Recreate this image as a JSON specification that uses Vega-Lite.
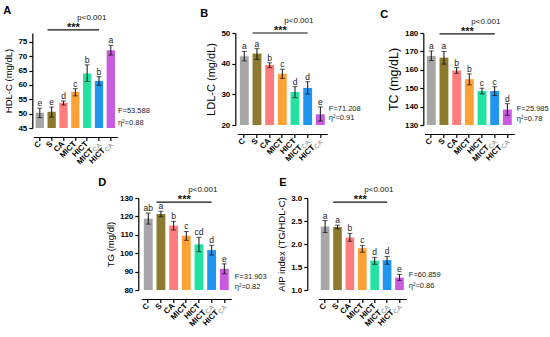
{
  "$schema": "https://vega.github.io/schema/vega-lite/v6.json",
  "padding": {"left": 3, "top": 4, "right": 0, "bottom": 0},
  "datasets": {
    "cats": [
      {"g": "C", "lab": "C", "sub": ""},
      {"g": "S", "lab": "S", "sub": ""},
      {"g": "CA", "lab": "CA", "sub": ""},
      {"g": "MICT", "lab": "MICT", "sub": ""},
      {"g": "HICT", "lab": "HICT", "sub": ""},
      {"g": "MICT_CA", "lab": "MICT", "sub": "CA"},
      {"g": "HICT_CA", "lab": "HICT", "sub": "CA"}
    ],
    "hdl": [
      {"g": "C", "m": 50.3, "lo": 48.6, "hi": 51.9, "L": "e"},
      {"g": "S", "m": 50.7, "lo": 48.8, "hi": 52.3, "L": "e"},
      {"g": "CA", "m": 53.8, "lo": 53.0, "hi": 54.4, "L": "d"},
      {"g": "MICT", "m": 57.6, "lo": 56.2, "hi": 58.7, "L": "c"},
      {"g": "HICT", "m": 64.0, "lo": 61.2, "hi": 67.0, "L": "b"},
      {"g": "MICT_CA", "m": 61.4, "lo": 59.9, "hi": 62.9, "L": "b"},
      {"g": "HICT_CA", "m": 72.1, "lo": 70.4, "hi": 73.8, "L": "a"}
    ],
    "ldl": [
      {"g": "C", "m": 42.4, "lo": 40.9, "hi": 44.0, "L": "a"},
      {"g": "S", "m": 43.3, "lo": 41.4, "hi": 44.9, "L": "a"},
      {"g": "CA", "m": 39.6, "lo": 38.7, "hi": 40.3, "L": "b"},
      {"g": "MICT", "m": 36.7, "lo": 35.2, "hi": 38.2, "L": "c"},
      {"g": "HICT", "m": 30.8, "lo": 28.9, "hi": 32.5, "L": "d"},
      {"g": "MICT_CA", "m": 32.1, "lo": 30.1, "hi": 34.1, "L": "d"},
      {"g": "HICT_CA", "m": 23.5, "lo": 21.3, "hi": 25.9, "L": "e"}
    ],
    "tc": [
      {"g": "C", "m": 167.5, "lo": 165.0, "hi": 170.2, "L": "a"},
      {"g": "S", "m": 166.6, "lo": 163.1, "hi": 170.0, "L": "a"},
      {"g": "CA", "m": 159.6, "lo": 158.1, "hi": 161.2, "L": "b"},
      {"g": "MICT", "m": 154.9, "lo": 151.8, "hi": 157.8, "L": "b"},
      {"g": "HICT", "m": 148.5, "lo": 146.9, "hi": 150.0, "L": "c"},
      {"g": "MICT_CA", "m": 148.5, "lo": 146.0, "hi": 150.8, "L": "c"},
      {"g": "HICT_CA", "m": 138.4, "lo": 135.3, "hi": 141.6, "L": "d"}
    ],
    "tg": [
      {"g": "C", "m": 118.8, "lo": 115.8, "hi": 121.8, "L": "ab"},
      {"g": "S", "m": 121.3, "lo": 119.8, "hi": 122.8, "L": "a"},
      {"g": "CA", "m": 115.0, "lo": 112.6, "hi": 117.3, "L": "b"},
      {"g": "MICT", "m": 109.5, "lo": 107.0, "hi": 111.8, "L": "c"},
      {"g": "HICT", "m": 104.8, "lo": 100.8, "hi": 108.6, "L": "cd"},
      {"g": "MICT_CA", "m": 101.7, "lo": 99.0, "hi": 104.3, "L": "d"},
      {"g": "HICT_CA", "m": 91.5, "lo": 88.8, "hi": 94.2, "L": "e"}
    ],
    "aip": [
      {"g": "C", "m": 2.38, "lo": 2.25, "hi": 2.51, "L": "a"},
      {"g": "S", "m": 2.37, "lo": 2.33, "hi": 2.41, "L": "a"},
      {"g": "CA", "m": 2.14, "lo": 2.06, "hi": 2.23, "L": "b"},
      {"g": "MICT", "m": 1.91, "lo": 1.82, "hi": 1.97, "L": "c"},
      {"g": "HICT", "m": 1.64, "lo": 1.56, "hi": 1.71, "L": "d"},
      {"g": "MICT_CA", "m": 1.65, "lo": 1.56, "hi": 1.73, "L": "d"},
      {"g": "HICT_CA", "m": 1.27, "lo": 1.21, "hi": 1.34, "L": "e"}
    ],
    "annA": [{"g": "S", "g2": "MICT_CA", "m": "MICT", "e": "HICT_CA", "s": "***", "p": "p<0.001", "F": "F=53.588", "eta": "η²=0.88"}],
    "annB": [{"g": "S", "g2": "MICT_CA", "m": "MICT", "e": "HICT_CA", "s": "***", "p": "p<0.001", "F": "F=71.208", "eta": "η²=0.91"}],
    "annC": [{"g": "S", "g2": "MICT_CA", "m": "MICT", "e": "HICT_CA", "s": "***", "p": "p<0.001", "F": "F=25.985", "eta": "η²=0.78"}],
    "annD": [{"g": "S", "g2": "MICT_CA", "m": "MICT", "e": "HICT_CA", "s": "***", "p": "p<0.001", "F": "F=31.903", "eta": "η²=0.82"}],
    "annE": [{"g": "S", "g2": "MICT_CA", "m": "MICT", "e": "HICT_CA", "s": "***", "p": "p<0.001", "F": "F=60.859", "eta": "η²=0.86"}]
  },
  "vconcat": [
    {
      "hconcat": [
        {
          "hconcat": [
            {
              "width": 84, "height": 95,
              "title": {"text": "A", "dx": -30},
              "encoding": {"x": {"field": "g", "type": "nominal", "scale": {"domain": ["C", "S", "CA", "MICT", "HICT", "MICT_CA", "HICT_CA"], "paddingInner": 0.3, "paddingOuter": 0.2}, "axis": {"title": null, "labels": false, "offset": 9}}},
              "layer": [
                {"data": {"name": "hdl"}, "mark": {"type": "bar"}, "encoding": {"y": {"field": "m", "type": "quantitative", "scale": {"domain": [45, 78.1], "zero": false, "nice": false}, "axis": {"title": "HDL-C (mg/dL)", "values": [45, 50, 55, 60, 65, 70, 75], "labelOverlap": false, "offset": 1, "titleFontSize": 9.5}}, "y2": {"datum": 45}, "color": {"field": "g", "type": "nominal", "scale": {"domain": ["C", "S", "CA", "MICT", "HICT", "MICT_CA", "HICT_CA"], "range": ["#a6a6a6", "#8b7a30", "#ff7d7d", "#ffa236", "#24e3a2", "#2196f0", "#c85be0"]}, "legend": null}}},
                {"data": {"name": "hdl"}, "mark": {"type": "rule", "color": "#111", "strokeWidth": 1}, "encoding": {"y": {"field": "lo", "type": "quantitative", "axis": {"title": "HDL-C (mg/dL)", "values": [45, 50, 55, 60, 65, 70, 75], "labelOverlap": false, "offset": 1, "titleFontSize": 9.5}}, "y2": {"field": "hi"}}},
                {"data": {"name": "hdl"}, "mark": {"type": "tick", "color": "#111", "size": 5, "thickness": 1}, "encoding": {"y": {"field": "lo", "type": "quantitative", "axis": {"title": "HDL-C (mg/dL)", "values": [45, 50, 55, 60, 65, 70, 75], "labelOverlap": false, "offset": 1, "titleFontSize": 9.5}}}},
                {"data": {"name": "hdl"}, "mark": {"type": "tick", "color": "#111", "size": 5, "thickness": 1}, "encoding": {"y": {"field": "hi", "type": "quantitative", "axis": {"title": "HDL-C (mg/dL)", "values": [45, 50, 55, 60, 65, 70, 75], "labelOverlap": false, "offset": 1, "titleFontSize": 9.5}}}},
                {"data": {"name": "hdl"}, "mark": {"type": "text", "fontSize": 8.5, "baseline": "alphabetic", "dy": -2, "color": "#222"}, "encoding": {"y": {"field": "hi", "type": "quantitative", "axis": {"title": "HDL-C (mg/dL)", "values": [45, 50, 55, 60, 65, 70, 75], "labelOverlap": false, "offset": 1, "titleFontSize": 9.5}}, "text": {"field": "L"}}},
                {"data": {"name": "annA"}, "mark": {"type": "rule", "color": "#111", "strokeWidth": 1.2}, "encoding": {"x": {"field": "g", "type": "nominal", "bandPosition": 0}, "x2": {"field": "g2"}, "y": {"datum": 79.2, "axis": {"title": "HDL-C (mg/dL)", "values": [45, 50, 55, 60, 65, 70, 75], "labelOverlap": false, "offset": 1, "titleFontSize": 9.5}}}},
                {"data": {"name": "annA"}, "mark": {"type": "text", "fontSize": 11, "fontWeight": "bold", "baseline": "alphabetic", "dy": 1, "dx": -2, "color": "#111"}, "encoding": {"x": {"field": "m", "type": "nominal"}, "y": {"datum": 79.2, "axis": {"title": "HDL-C (mg/dL)", "values": [45, 50, 55, 60, 65, 70, 75], "labelOverlap": false, "offset": 1, "titleFontSize": 9.5}}, "text": {"field": "s"}}},
                {"data": {"name": "annA"}, "mark": {"type": "text", "fontSize": 8, "align": "left", "baseline": "alphabetic", "dx": 2, "dy": -10, "color": "#111"}, "encoding": {"x": {"field": "m", "type": "nominal"}, "y": {"datum": 79.2, "axis": {"title": "HDL-C (mg/dL)", "values": [45, 50, 55, 60, 65, 70, 75], "labelOverlap": false, "offset": 1, "titleFontSize": 9.5}}, "text": {"field": "p"}}},
                {"data": {"name": "annA"}, "mark": {"type": "text", "fontSize": 7.5, "align": "left", "baseline": "middle", "dx": 3, "color": "#222"}, "encoding": {"x": {"field": "e", "type": "nominal", "bandPosition": 1}, "y": {"datum": 50.9, "axis": {"title": "HDL-C (mg/dL)", "values": [45, 50, 55, 60, 65, 70, 75], "labelOverlap": false, "offset": 1, "titleFontSize": 9.5}}, "text": {"field": "F"}}},
                {"data": {"name": "annA"}, "mark": {"type": "text", "fontSize": 7.5, "align": "left", "baseline": "middle", "dx": 3, "color": "#222"}, "encoding": {"x": {"field": "e", "type": "nominal", "bandPosition": 1}, "y": {"datum": 46.7, "axis": {"title": "HDL-C (mg/dL)", "values": [45, 50, 55, 60, 65, 70, 75], "labelOverlap": false, "offset": 1, "titleFontSize": 9.5}}, "text": {"field": "eta"}}},
                {"data": {"name": "cats"}, "transform": [{"filter": "datum.sub == ''"}], "mark": {"type": "text", "angle": 315, "align": "right", "baseline": "middle", "fontWeight": "bold", "fontSize": 8, "dx": -10.6, "dy": 10.6, "color": "#000"}, "encoding": {"y": {"datum": 45, "axis": {"title": "HDL-C (mg/dL)", "values": [45, 50, 55, 60, 65, 70, 75], "labelOverlap": false, "offset": 1, "titleFontSize": 9.5}}, "text": {"field": "lab"}}},
                {"data": {"name": "cats"}, "transform": [{"filter": "datum.sub != ''"}], "mark": {"type": "text", "angle": 315, "align": "right", "baseline": "middle", "fontWeight": "bold", "fontSize": 8, "dx": -20, "dy": 10.6, "color": "#000"}, "encoding": {"y": {"datum": 45, "axis": {"title": "HDL-C (mg/dL)", "values": [45, 50, 55, 60, 65, 70, 75], "labelOverlap": false, "offset": 1, "titleFontSize": 9.5}}, "text": {"field": "lab"}}},
                {"data": {"name": "cats"}, "transform": [{"filter": "datum.sub != ''"}], "mark": {"type": "text", "angle": 315, "align": "right", "baseline": "middle", "fontSize": 6.5, "dx": -10.6, "dy": 12.5, "color": "#888"}, "encoding": {"y": {"datum": 45, "axis": {"title": "HDL-C (mg/dL)", "values": [45, 50, 55, 60, 65, 70, 75], "labelOverlap": false, "offset": 1, "titleFontSize": 9.5}}, "text": {"field": "sub"}}}
              ]
            },
            {
              "width": 90, "height": 92,
              "title": {"text": "B", "dx": -37},
              "encoding": {"x": {"field": "g", "type": "nominal", "scale": {"domain": ["C", "S", "CA", "MICT", "HICT", "MICT_CA", "HICT_CA"], "paddingInner": 0.3, "paddingOuter": 0.2}, "axis": {"title": null, "labels": false, "offset": 9}}},
              "layer": [
                {"data": {"name": "ldl"}, "mark": {"type": "bar"}, "encoding": {"y": {"field": "m", "type": "quantitative", "scale": {"domain": [20, 50], "zero": false, "nice": false}, "axis": {"title": "LDL-C (mg/dL)", "values": [20, 30, 40, 50], "labelOverlap": false, "offset": 2, "titleFontSize": 11}}, "y2": {"datum": 20}, "color": {"field": "g", "type": "nominal", "scale": {"domain": ["C", "S", "CA", "MICT", "HICT", "MICT_CA", "HICT_CA"], "range": ["#a6a6a6", "#8b7a30", "#ff7d7d", "#ffa236", "#24e3a2", "#2196f0", "#c85be0"]}, "legend": null}}},
                {"data": {"name": "ldl"}, "mark": {"type": "rule", "color": "#111", "strokeWidth": 1}, "encoding": {"y": {"field": "lo", "type": "quantitative", "axis": {"title": "LDL-C (mg/dL)", "values": [20, 30, 40, 50], "labelOverlap": false, "offset": 2, "titleFontSize": 11}}, "y2": {"field": "hi"}}},
                {"data": {"name": "ldl"}, "mark": {"type": "tick", "color": "#111", "size": 5, "thickness": 1}, "encoding": {"y": {"field": "lo", "type": "quantitative", "axis": {"title": "LDL-C (mg/dL)", "values": [20, 30, 40, 50], "labelOverlap": false, "offset": 2, "titleFontSize": 11}}}},
                {"data": {"name": "ldl"}, "mark": {"type": "tick", "color": "#111", "size": 5, "thickness": 1}, "encoding": {"y": {"field": "hi", "type": "quantitative", "axis": {"title": "LDL-C (mg/dL)", "values": [20, 30, 40, 50], "labelOverlap": false, "offset": 2, "titleFontSize": 11}}}},
                {"data": {"name": "ldl"}, "mark": {"type": "text", "fontSize": 8.5, "baseline": "alphabetic", "dy": -2, "color": "#222"}, "encoding": {"y": {"field": "hi", "type": "quantitative", "axis": {"title": "LDL-C (mg/dL)", "values": [20, 30, 40, 50], "labelOverlap": false, "offset": 2, "titleFontSize": 11}}, "text": {"field": "L"}}},
                {"data": {"name": "annB"}, "mark": {"type": "rule", "color": "#111", "strokeWidth": 1.2}, "encoding": {"x": {"field": "g", "type": "nominal", "bandPosition": 0}, "x2": {"field": "g2"}, "y": {"datum": 50, "axis": {"title": "LDL-C (mg/dL)", "values": [20, 30, 40, 50], "labelOverlap": false, "offset": 2, "titleFontSize": 11}}}},
                {"data": {"name": "annB"}, "mark": {"type": "text", "fontSize": 11, "fontWeight": "bold", "baseline": "alphabetic", "dy": 1, "dx": -2, "color": "#111"}, "encoding": {"x": {"field": "m", "type": "nominal"}, "y": {"datum": 50, "axis": {"title": "LDL-C (mg/dL)", "values": [20, 30, 40, 50], "labelOverlap": false, "offset": 2, "titleFontSize": 11}}, "text": {"field": "s"}}},
                {"data": {"name": "annB"}, "mark": {"type": "text", "fontSize": 8, "align": "left", "baseline": "alphabetic", "dx": 2, "dy": -10, "color": "#111"}, "encoding": {"x": {"field": "m", "type": "nominal"}, "y": {"datum": 50, "axis": {"title": "LDL-C (mg/dL)", "values": [20, 30, 40, 50], "labelOverlap": false, "offset": 2, "titleFontSize": 11}}, "text": {"field": "p"}}},
                {"data": {"name": "annB"}, "mark": {"type": "text", "fontSize": 7.5, "align": "left", "baseline": "middle", "dx": 4, "color": "#222"}, "encoding": {"x": {"field": "e", "type": "nominal", "bandPosition": 1}, "y": {"datum": 25.2, "axis": {"title": "LDL-C (mg/dL)", "values": [20, 30, 40, 50], "labelOverlap": false, "offset": 2, "titleFontSize": 11}}, "text": {"field": "F"}}},
                {"data": {"name": "annB"}, "mark": {"type": "text", "fontSize": 7.5, "align": "left", "baseline": "middle", "dx": 4, "color": "#222"}, "encoding": {"x": {"field": "e", "type": "nominal", "bandPosition": 1}, "y": {"datum": 22.3, "axis": {"title": "LDL-C (mg/dL)", "values": [20, 30, 40, 50], "labelOverlap": false, "offset": 2, "titleFontSize": 11}}, "text": {"field": "eta"}}},
                {"data": {"name": "cats"}, "transform": [{"filter": "datum.sub == ''"}], "mark": {"type": "text", "angle": 315, "align": "right", "baseline": "middle", "fontWeight": "bold", "fontSize": 8, "dx": -10.6, "dy": 10.6, "color": "#000"}, "encoding": {"y": {"datum": 20, "axis": {"title": "LDL-C (mg/dL)", "values": [20, 30, 40, 50], "labelOverlap": false, "offset": 2, "titleFontSize": 11}}, "text": {"field": "lab"}}},
                {"data": {"name": "cats"}, "transform": [{"filter": "datum.sub != ''"}], "mark": {"type": "text", "angle": 315, "align": "right", "baseline": "middle", "fontWeight": "bold", "fontSize": 8, "dx": -20, "dy": 10.6, "color": "#000"}, "encoding": {"y": {"datum": 20, "axis": {"title": "LDL-C (mg/dL)", "values": [20, 30, 40, 50], "labelOverlap": false, "offset": 2, "titleFontSize": 11}}, "text": {"field": "lab"}}},
                {"data": {"name": "cats"}, "transform": [{"filter": "datum.sub != ''"}], "mark": {"type": "text", "angle": 315, "align": "right", "baseline": "middle", "fontSize": 6.5, "dx": -10.6, "dy": 12.5, "color": "#888"}, "encoding": {"y": {"datum": 20, "axis": {"title": "LDL-C (mg/dL)", "values": [20, 30, 40, 50], "labelOverlap": false, "offset": 2, "titleFontSize": 11}}, "text": {"field": "sub"}}}
              ]
            }
          ],
          "spacing": 50
        },
        {
          "width": 90, "height": 92,
          "title": {"text": "C", "dx": -44},
          "encoding": {"x": {"field": "g", "type": "nominal", "scale": {"domain": ["C", "S", "CA", "MICT", "HICT", "MICT_CA", "HICT_CA"], "paddingInner": 0.3, "paddingOuter": 0.2}, "axis": {"title": null, "labels": false, "offset": 9}}},
          "layer": [
            {"data": {"name": "tc"}, "mark": {"type": "bar"}, "encoding": {"y": {"field": "m", "type": "quantitative", "scale": {"domain": [130, 180], "zero": false, "nice": false}, "axis": {"title": "TC (mg/dL)", "values": [130, 140, 150, 160, 170, 180], "labelOverlap": false, "offset": 1, "titleFontSize": 12.5}}, "y2": {"datum": 130}, "color": {"field": "g", "type": "nominal", "scale": {"domain": ["C", "S", "CA", "MICT", "HICT", "MICT_CA", "HICT_CA"], "range": ["#a6a6a6", "#8b7a30", "#ff7d7d", "#ffa236", "#24e3a2", "#2196f0", "#c85be0"]}, "legend": null}}},
            {"data": {"name": "tc"}, "mark": {"type": "rule", "color": "#111", "strokeWidth": 1}, "encoding": {"y": {"field": "lo", "type": "quantitative", "axis": {"title": "TC (mg/dL)", "values": [130, 140, 150, 160, 170, 180], "labelOverlap": false, "offset": 1, "titleFontSize": 12.5}}, "y2": {"field": "hi"}}},
            {"data": {"name": "tc"}, "mark": {"type": "tick", "color": "#111", "size": 5, "thickness": 1}, "encoding": {"y": {"field": "lo", "type": "quantitative", "axis": {"title": "TC (mg/dL)", "values": [130, 140, 150, 160, 170, 180], "labelOverlap": false, "offset": 1, "titleFontSize": 12.5}}}},
            {"data": {"name": "tc"}, "mark": {"type": "tick", "color": "#111", "size": 5, "thickness": 1}, "encoding": {"y": {"field": "hi", "type": "quantitative", "axis": {"title": "TC (mg/dL)", "values": [130, 140, 150, 160, 170, 180], "labelOverlap": false, "offset": 1, "titleFontSize": 12.5}}}},
            {"data": {"name": "tc"}, "mark": {"type": "text", "fontSize": 8.5, "baseline": "alphabetic", "dy": -2, "color": "#222"}, "encoding": {"y": {"field": "hi", "type": "quantitative", "axis": {"title": "TC (mg/dL)", "values": [130, 140, 150, 160, 170, 180], "labelOverlap": false, "offset": 1, "titleFontSize": 12.5}}, "text": {"field": "L"}}},
            {"data": {"name": "annC"}, "mark": {"type": "rule", "color": "#111", "strokeWidth": 1.2}, "encoding": {"x": {"field": "g", "type": "nominal", "bandPosition": 0}, "x2": {"field": "g2"}, "y": {"datum": 179.5, "axis": {"title": "TC (mg/dL)", "values": [130, 140, 150, 160, 170, 180], "labelOverlap": false, "offset": 1, "titleFontSize": 12.5}}}},
            {"data": {"name": "annC"}, "mark": {"type": "text", "fontSize": 11, "fontWeight": "bold", "baseline": "alphabetic", "dy": 1, "dx": -2, "color": "#111"}, "encoding": {"x": {"field": "m", "type": "nominal"}, "y": {"datum": 179.5, "axis": {"title": "TC (mg/dL)", "values": [130, 140, 150, 160, 170, 180], "labelOverlap": false, "offset": 1, "titleFontSize": 12.5}}, "text": {"field": "s"}}},
            {"data": {"name": "annC"}, "mark": {"type": "text", "fontSize": 8, "align": "left", "baseline": "alphabetic", "dx": 2, "dy": -10, "color": "#111"}, "encoding": {"x": {"field": "m", "type": "nominal"}, "y": {"datum": 179.5, "axis": {"title": "TC (mg/dL)", "values": [130, 140, 150, 160, 170, 180], "labelOverlap": false, "offset": 1, "titleFontSize": 12.5}}, "text": {"field": "p"}}},
            {"data": {"name": "annC"}, "mark": {"type": "text", "fontSize": 7.5, "align": "left", "baseline": "middle", "dx": 5, "color": "#222"}, "encoding": {"x": {"field": "e", "type": "nominal", "bandPosition": 1}, "y": {"datum": 138.7, "axis": {"title": "TC (mg/dL)", "values": [130, 140, 150, 160, 170, 180], "labelOverlap": false, "offset": 1, "titleFontSize": 12.5}}, "text": {"field": "F"}}},
            {"data": {"name": "annC"}, "mark": {"type": "text", "fontSize": 7.5, "align": "left", "baseline": "middle", "dx": 5, "color": "#222"}, "encoding": {"x": {"field": "e", "type": "nominal", "bandPosition": 1}, "y": {"datum": 133.3, "axis": {"title": "TC (mg/dL)", "values": [130, 140, 150, 160, 170, 180], "labelOverlap": false, "offset": 1, "titleFontSize": 12.5}}, "text": {"field": "eta"}}},
            {"data": {"name": "cats"}, "transform": [{"filter": "datum.sub == ''"}], "mark": {"type": "text", "angle": 315, "align": "right", "baseline": "middle", "fontWeight": "bold", "fontSize": 8, "dx": -10.6, "dy": 10.6, "color": "#000"}, "encoding": {"y": {"datum": 130, "axis": {"title": "TC (mg/dL)", "values": [130, 140, 150, 160, 170, 180], "labelOverlap": false, "offset": 1, "titleFontSize": 12.5}}, "text": {"field": "lab"}}},
            {"data": {"name": "cats"}, "transform": [{"filter": "datum.sub != ''"}], "mark": {"type": "text", "angle": 315, "align": "right", "baseline": "middle", "fontWeight": "bold", "fontSize": 8, "dx": -20, "dy": 10.6, "color": "#000"}, "encoding": {"y": {"datum": 130, "axis": {"title": "TC (mg/dL)", "values": [130, 140, 150, 160, 170, 180], "labelOverlap": false, "offset": 1, "titleFontSize": 12.5}}, "text": {"field": "lab"}}},
            {"data": {"name": "cats"}, "transform": [{"filter": "datum.sub != ''"}], "mark": {"type": "text", "angle": 315, "align": "right", "baseline": "middle", "fontSize": 6.5, "dx": -10.6, "dy": 12.5, "color": "#888"}, "encoding": {"y": {"datum": 130, "axis": {"title": "TC (mg/dL)", "values": [130, 140, 150, 160, 170, 180], "labelOverlap": false, "offset": 1, "titleFontSize": 12.5}}, "text": {"field": "sub"}}}
          ]
        }
      ],
      "spacing": 19
    },
    {
      "hconcat": [
        {
          "width": 90, "height": 92,
          "title": {"text": "D", "dx": -43},
          "encoding": {"x": {"field": "g", "type": "nominal", "scale": {"domain": ["C", "S", "CA", "MICT", "HICT", "MICT_CA", "HICT_CA"], "paddingInner": 0.3, "paddingOuter": 0.2}, "axis": {"title": null, "labels": false, "offset": 9}}},
          "layer": [
            {"data": {"name": "tg"}, "mark": {"type": "bar"}, "encoding": {"y": {"field": "m", "type": "quantitative", "scale": {"domain": [80, 130], "zero": false, "nice": false}, "axis": {"title": "TG (mg/dl)", "values": [80, 90, 100, 110, 120, 130], "labelOverlap": false, "offset": 3, "titleFontSize": 9.5}}, "y2": {"datum": 80}, "color": {"field": "g", "type": "nominal", "scale": {"domain": ["C", "S", "CA", "MICT", "HICT", "MICT_CA", "HICT_CA"], "range": ["#a6a6a6", "#8b7a30", "#ff7d7d", "#ffa236", "#24e3a2", "#2196f0", "#c85be0"]}, "legend": null}}},
            {"data": {"name": "tg"}, "mark": {"type": "rule", "color": "#111", "strokeWidth": 1}, "encoding": {"y": {"field": "lo", "type": "quantitative", "axis": {"title": "TG (mg/dl)", "values": [80, 90, 100, 110, 120, 130], "labelOverlap": false, "offset": 3, "titleFontSize": 9.5}}, "y2": {"field": "hi"}}},
            {"data": {"name": "tg"}, "mark": {"type": "tick", "color": "#111", "size": 5, "thickness": 1}, "encoding": {"y": {"field": "lo", "type": "quantitative", "axis": {"title": "TG (mg/dl)", "values": [80, 90, 100, 110, 120, 130], "labelOverlap": false, "offset": 3, "titleFontSize": 9.5}}}},
            {"data": {"name": "tg"}, "mark": {"type": "tick", "color": "#111", "size": 5, "thickness": 1}, "encoding": {"y": {"field": "hi", "type": "quantitative", "axis": {"title": "TG (mg/dl)", "values": [80, 90, 100, 110, 120, 130], "labelOverlap": false, "offset": 3, "titleFontSize": 9.5}}}},
            {"data": {"name": "tg"}, "mark": {"type": "text", "fontSize": 8.5, "baseline": "alphabetic", "dy": -2, "color": "#222"}, "encoding": {"y": {"field": "hi", "type": "quantitative", "axis": {"title": "TG (mg/dl)", "values": [80, 90, 100, 110, 120, 130], "labelOverlap": false, "offset": 3, "titleFontSize": 9.5}}, "text": {"field": "L"}}},
            {"data": {"name": "annD"}, "mark": {"type": "rule", "color": "#111", "strokeWidth": 1.2}, "encoding": {"x": {"field": "g", "type": "nominal", "bandPosition": 0}, "x2": {"field": "g2"}, "y": {"datum": 127.8, "axis": {"title": "TG (mg/dl)", "values": [80, 90, 100, 110, 120, 130], "labelOverlap": false, "offset": 3, "titleFontSize": 9.5}}}},
            {"data": {"name": "annD"}, "mark": {"type": "text", "fontSize": 11, "fontWeight": "bold", "baseline": "alphabetic", "dy": 1, "dx": -2, "color": "#111"}, "encoding": {"x": {"field": "m", "type": "nominal"}, "y": {"datum": 127.8, "axis": {"title": "TG (mg/dl)", "values": [80, 90, 100, 110, 120, 130], "labelOverlap": false, "offset": 3, "titleFontSize": 9.5}}, "text": {"field": "s"}}},
            {"data": {"name": "annD"}, "mark": {"type": "text", "fontSize": 8, "align": "left", "baseline": "alphabetic", "dx": 2, "dy": -10, "color": "#111"}, "encoding": {"x": {"field": "m", "type": "nominal"}, "y": {"datum": 127.8, "axis": {"title": "TG (mg/dl)", "values": [80, 90, 100, 110, 120, 130], "labelOverlap": false, "offset": 3, "titleFontSize": 9.5}}, "text": {"field": "p"}}},
            {"data": {"name": "annD"}, "mark": {"type": "text", "fontSize": 7.5, "align": "left", "baseline": "middle", "dx": 6, "color": "#222"}, "encoding": {"x": {"field": "e", "type": "nominal", "bandPosition": 1}, "y": {"datum": 87.1, "axis": {"title": "TG (mg/dl)", "values": [80, 90, 100, 110, 120, 130], "labelOverlap": false, "offset": 3, "titleFontSize": 9.5}}, "text": {"field": "F"}}},
            {"data": {"name": "annD"}, "mark": {"type": "text", "fontSize": 7.5, "align": "left", "baseline": "middle", "dx": 6, "color": "#222"}, "encoding": {"x": {"field": "e", "type": "nominal", "bandPosition": 1}, "y": {"datum": 81.6, "axis": {"title": "TG (mg/dl)", "values": [80, 90, 100, 110, 120, 130], "labelOverlap": false, "offset": 3, "titleFontSize": 9.5}}, "text": {"field": "eta"}}},
            {"data": {"name": "cats"}, "transform": [{"filter": "datum.sub == ''"}], "mark": {"type": "text", "angle": 315, "align": "right", "baseline": "middle", "fontWeight": "bold", "fontSize": 8, "dx": -10.6, "dy": 10.6, "color": "#000"}, "encoding": {"y": {"datum": 80, "axis": {"title": "TG (mg/dl)", "values": [80, 90, 100, 110, 120, 130], "labelOverlap": false, "offset": 3, "titleFontSize": 9.5}}, "text": {"field": "lab"}}},
            {"data": {"name": "cats"}, "transform": [{"filter": "datum.sub != ''"}], "mark": {"type": "text", "angle": 315, "align": "right", "baseline": "middle", "fontWeight": "bold", "fontSize": 8, "dx": -20, "dy": 10.6, "color": "#000"}, "encoding": {"y": {"datum": 80, "axis": {"title": "TG (mg/dl)", "values": [80, 90, 100, 110, 120, 130], "labelOverlap": false, "offset": 3, "titleFontSize": 9.5}}, "text": {"field": "lab"}}},
            {"data": {"name": "cats"}, "transform": [{"filter": "datum.sub != ''"}], "mark": {"type": "text", "angle": 315, "align": "right", "baseline": "middle", "fontSize": 6.5, "dx": -10.6, "dy": 12.5, "color": "#888"}, "encoding": {"y": {"datum": 80, "axis": {"title": "TG (mg/dl)", "values": [80, 90, 100, 110, 120, 130], "labelOverlap": false, "offset": 3, "titleFontSize": 9.5}}, "text": {"field": "sub"}}}
          ]
        },
        {
          "width": 88, "height": 92,
          "title": {"text": "E", "dx": -39},
          "encoding": {"x": {"field": "g", "type": "nominal", "scale": {"domain": ["C", "S", "CA", "MICT", "HICT", "MICT_CA", "HICT_CA"], "paddingInner": 0.3, "paddingOuter": 0.2}, "axis": {"title": null, "labels": false, "offset": 9}}},
          "layer": [
            {"data": {"name": "aip"}, "mark": {"type": "bar"}, "encoding": {"y": {"field": "m", "type": "quantitative", "scale": {"domain": [1, 3], "zero": false, "nice": false}, "axis": {"title": "AIP index (TG/HDL-C)", "values": [1, 1.5, 2, 2.5, 3], "format": ".1f", "labelOverlap": false, "offset": 11, "titleFontSize": 9.5}}, "y2": {"datum": 1}, "color": {"field": "g", "type": "nominal", "scale": {"domain": ["C", "S", "CA", "MICT", "HICT", "MICT_CA", "HICT_CA"], "range": ["#a6a6a6", "#8b7a30", "#ff7d7d", "#ffa236", "#24e3a2", "#2196f0", "#c85be0"]}, "legend": null}}},
            {"data": {"name": "aip"}, "mark": {"type": "rule", "color": "#111", "strokeWidth": 1}, "encoding": {"y": {"field": "lo", "type": "quantitative", "axis": {"title": "AIP index (TG/HDL-C)", "values": [1, 1.5, 2, 2.5, 3], "format": ".1f", "labelOverlap": false, "offset": 11, "titleFontSize": 9.5}}, "y2": {"field": "hi"}}},
            {"data": {"name": "aip"}, "mark": {"type": "tick", "color": "#111", "size": 5, "thickness": 1}, "encoding": {"y": {"field": "lo", "type": "quantitative", "axis": {"title": "AIP index (TG/HDL-C)", "values": [1, 1.5, 2, 2.5, 3], "format": ".1f", "labelOverlap": false, "offset": 11, "titleFontSize": 9.5}}}},
            {"data": {"name": "aip"}, "mark": {"type": "tick", "color": "#111", "size": 5, "thickness": 1}, "encoding": {"y": {"field": "hi", "type": "quantitative", "axis": {"title": "AIP index (TG/HDL-C)", "values": [1, 1.5, 2, 2.5, 3], "format": ".1f", "labelOverlap": false, "offset": 11, "titleFontSize": 9.5}}}},
            {"data": {"name": "aip"}, "mark": {"type": "text", "fontSize": 8.5, "baseline": "alphabetic", "dy": -2, "color": "#222"}, "encoding": {"y": {"field": "hi", "type": "quantitative", "axis": {"title": "AIP index (TG/HDL-C)", "values": [1, 1.5, 2, 2.5, 3], "format": ".1f", "labelOverlap": false, "offset": 11, "titleFontSize": 9.5}}, "text": {"field": "L"}}},
            {"data": {"name": "annE"}, "mark": {"type": "rule", "color": "#111", "strokeWidth": 1.2}, "encoding": {"x": {"field": "g", "type": "nominal", "bandPosition": 0}, "x2": {"field": "g2"}, "y": {"datum": 2.91, "axis": {"title": "AIP index (TG/HDL-C)", "values": [1, 1.5, 2, 2.5, 3], "format": ".1f", "labelOverlap": false, "offset": 11, "titleFontSize": 9.5}}}},
            {"data": {"name": "annE"}, "mark": {"type": "text", "fontSize": 11, "fontWeight": "bold", "baseline": "alphabetic", "dy": 1, "dx": -2, "color": "#111"}, "encoding": {"x": {"field": "m", "type": "nominal"}, "y": {"datum": 2.91, "axis": {"title": "AIP index (TG/HDL-C)", "values": [1, 1.5, 2, 2.5, 3], "format": ".1f", "labelOverlap": false, "offset": 11, "titleFontSize": 9.5}}, "text": {"field": "s"}}},
            {"data": {"name": "annE"}, "mark": {"type": "text", "fontSize": 8, "align": "left", "baseline": "alphabetic", "dx": 2, "dy": -10, "color": "#111"}, "encoding": {"x": {"field": "m", "type": "nominal"}, "y": {"datum": 2.91, "axis": {"title": "AIP index (TG/HDL-C)", "values": [1, 1.5, 2, 2.5, 3], "format": ".1f", "labelOverlap": false, "offset": 11, "titleFontSize": 9.5}}, "text": {"field": "p"}}},
            {"data": {"name": "annE"}, "mark": {"type": "text", "fontSize": 7.5, "align": "left", "baseline": "middle", "dx": 5, "color": "#222"}, "encoding": {"x": {"field": "e", "type": "nominal", "bandPosition": 1}, "y": {"datum": 1.33, "axis": {"title": "AIP index (TG/HDL-C)", "values": [1, 1.5, 2, 2.5, 3], "format": ".1f", "labelOverlap": false, "offset": 11, "titleFontSize": 9.5}}, "text": {"field": "F"}}},
            {"data": {"name": "annE"}, "mark": {"type": "text", "fontSize": 7.5, "align": "left", "baseline": "middle", "dx": 5, "color": "#222"}, "encoding": {"x": {"field": "e", "type": "nominal", "bandPosition": 1}, "y": {"datum": 1.087, "axis": {"title": "AIP index (TG/HDL-C)", "values": [1, 1.5, 2, 2.5, 3], "format": ".1f", "labelOverlap": false, "offset": 11, "titleFontSize": 9.5}}, "text": {"field": "eta"}}},
            {"data": {"name": "cats"}, "transform": [{"filter": "datum.sub == ''"}], "mark": {"type": "text", "angle": 315, "align": "right", "baseline": "middle", "fontWeight": "bold", "fontSize": 8, "dx": -10.6, "dy": 10.6, "color": "#000"}, "encoding": {"y": {"datum": 1, "axis": {"title": "AIP index (TG/HDL-C)", "values": [1, 1.5, 2, 2.5, 3], "format": ".1f", "labelOverlap": false, "offset": 11, "titleFontSize": 9.5}}, "text": {"field": "lab"}}},
            {"data": {"name": "cats"}, "transform": [{"filter": "datum.sub != ''"}], "mark": {"type": "text", "angle": 315, "align": "right", "baseline": "middle", "fontWeight": "bold", "fontSize": 8, "dx": -20, "dy": 10.6, "color": "#000"}, "encoding": {"y": {"datum": 1, "axis": {"title": "AIP index (TG/HDL-C)", "values": [1, 1.5, 2, 2.5, 3], "format": ".1f", "labelOverlap": false, "offset": 11, "titleFontSize": 9.5}}, "text": {"field": "lab"}}},
            {"data": {"name": "cats"}, "transform": [{"filter": "datum.sub != ''"}], "mark": {"type": "text", "angle": 315, "align": "right", "baseline": "middle", "fontSize": 6.5, "dx": -10.6, "dy": 12.5, "color": "#888"}, "encoding": {"y": {"datum": 1, "axis": {"title": "AIP index (TG/HDL-C)", "values": [1, 1.5, 2, 2.5, 3], "format": ".1f", "labelOverlap": false, "offset": 11, "titleFontSize": 9.5}}, "text": {"field": "sub"}}}
          ]
        }
      ],
      "spacing": 9
    }
  ],
  "spacing": 10,
  "center": true,
  "config": {
    "font": "Liberation Sans",
    "view": {"stroke": null},
    "axis": {"grid": false, "domainColor": "#000", "tickColor": "#000", "labelColor": "#000", "titleColor": "#000", "domainWidth": 1.2, "tickWidth": 1.2, "tickSize": 3.5, "labelFontWeight": "bold", "labelFontSize": 8, "labelOverlap": false, "titleFontWeight": "normal", "labelPadding": 2, "titlePadding": 4},
    "title": {"fontSize": 11, "fontWeight": "bold", "anchor": "start", "frame": "group", "color": "#000", "offset": -2}
  }
}
